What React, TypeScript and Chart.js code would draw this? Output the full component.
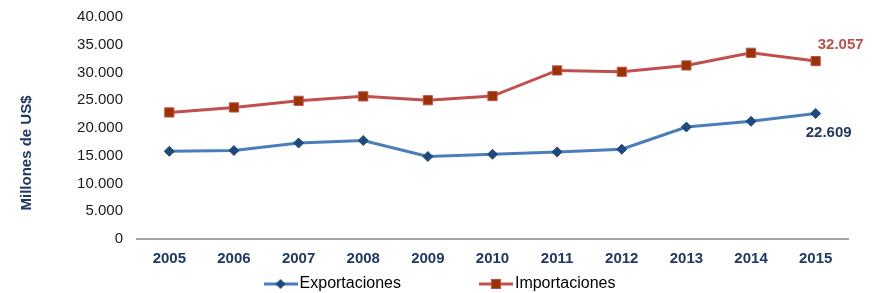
import React, { useEffect, useRef } from "react";
import { Chart, registerables } from "chart.js";

Chart.register(...registerables);

const years = ["2005", "2006", "2007", "2008", "2009", "2010", "2011", "2012", "2013", "2014", "2015"];
const exportaciones = [15810, 15940, 17300, 17740, 14860, 15270, 15690, 16170, 20180, 21200, 22609];
const importaciones = [22800, 23700, 24900, 25700, 25000, 25750, 30370, 30130, 31270, 33550, 32057];
const seriesNames = ["Exportaciones", "Importaciones"];
const endLabels = ["22.609", "32.057"];
const yAxisTitle = "Millones de US$";
const yMin = 0;
const yMax = 40000;
const yStep = 5000;

const FONT = "Arial, 'Liberation Sans', sans-serif";
const EXP_LINE = "#4a7ebb";
const EXP_MARK = "#1f497d";
const IMP_LINE = "#c0504d";
const IMP_MARK = "#993300";
const NAVY = "#1f3864";

function formatThousands(v: number): string {
  return v === 0 ? "0" : v.toLocaleString("de-DE");
}

function makeLegendSwatch(line: string, mark: string, border: string, kind: "diamond" | "square"): HTMLCanvasElement {
  const c = document.createElement("canvas");
  c.width = 34;
  c.height = 12;
  const ctx = c.getContext("2d")!;
  ctx.strokeStyle = line;
  ctx.lineWidth = 3;
  ctx.beginPath();
  ctx.moveTo(0, 6);
  ctx.lineTo(34, 6);
  ctx.stroke();
  ctx.fillStyle = mark;
  if (kind === "diamond") {
    ctx.beginPath();
    ctx.moveTo(17, 1);
    ctx.lineTo(22, 6);
    ctx.lineTo(17, 11);
    ctx.lineTo(12, 6);
    ctx.closePath();
    ctx.fill();
  } else {
    ctx.fillRect(12, 1, 10, 10);
    ctx.strokeStyle = border;
    ctx.lineWidth = 1;
    ctx.strokeRect(12.5, 1.5, 9, 9);
  }
  return c;
}

export default function App() {
  const canvasRef = useRef<HTMLCanvasElement | null>(null);

  useEffect(() => {
    document.body.style.margin = "0";
    const canvas = canvasRef.current!;
    const swatches = [
      makeLegendSwatch(EXP_LINE, EXP_MARK, EXP_MARK, "diamond"),
      makeLegendSwatch(IMP_LINE, IMP_MARK, IMP_LINE, "square"),
    ];

    const extrasPlugin = {
      id: "extras",
      afterDraw(chart: any) {
        const ctx = chart.ctx;
        ctx.save();
        // y-axis title
        ctx.translate(27, 153);
        ctx.rotate(-Math.PI / 2);
        ctx.font = `bold 15px ${FONT}`;
        ctx.fillStyle = NAVY;
        ctx.textAlign = "center";
        ctx.textBaseline = "middle";
        ctx.fillText(yAxisTitle, 0, 0);
        ctx.restore();

        // end labels
        const m0 = chart.getDatasetMeta(0);
        const m1 = chart.getDatasetMeta(1);
        const p0 = m0.data[m0.data.length - 1];
        const p1 = m1.data[m1.data.length - 1];
        ctx.save();
        ctx.font = `bold 15px ${FONT}`;
        ctx.textAlign = "center";
        ctx.textBaseline = "middle";
        ctx.fillStyle = NAVY;
        ctx.fillText(endLabels[0], p0.x + 13, p0.y + 19);
        ctx.fillStyle = IMP_LINE;
        ctx.fillText(endLabels[1], p1.x + 25, p1.y - 16);
        ctx.restore();

        // legend
        ctx.save();
        ctx.font = `16px ${FONT}`;
        ctx.textBaseline = "middle";
        ctx.fillStyle = "#000";
        const y = 284;
        const gap = 2;
        const itemGap = 78;
        const widths = seriesNames.map((n) => 34 + gap + ctx.measureText(n).width);
        const total = widths[0] + itemGap + widths[1];
        let x = chart.width / 2 - total / 2;
        seriesNames.forEach((n, i) => {
          ctx.drawImage(swatches[i], x, y - 6);
          ctx.fillText(n, x + 34 + gap, y);
          x += widths[i] + itemGap;
        });
        ctx.restore();
      },
    };

    const chart = new Chart(canvas, {
      type: "line",
      data: {
        labels: years,
        datasets: [
          {
            label: seriesNames[0],
            data: exportaciones,
            borderColor: EXP_LINE,
            borderWidth: 3,
            pointStyle: "rectRot",
            pointRadius: 5,
            pointBackgroundColor: EXP_MARK,
            pointBorderColor: EXP_MARK,
            pointBorderWidth: 1,
            tension: 0,
          },
          {
            label: seriesNames[1],
            data: importaciones,
            borderColor: IMP_LINE,
            borderWidth: 3,
            pointStyle: "rect",
            pointRadius: 6.5,
            pointBackgroundColor: IMP_MARK,
            pointBorderColor: IMP_LINE,
            pointBorderWidth: 1,
            tension: 0,
          },
        ],
      },
      options: {
        animation: false,
        responsive: false,
        maintainAspectRatio: false,
        layout: { padding: { left: 0, right: 31, top: 17, bottom: 0 } },
        plugins: {
          legend: { display: false },
          tooltip: { enabled: false },
        },
        scales: {
          x: {
            offset: true,
            grid: { display: false, drawTicks: false },
            border: { display: true, color: "#a6a6a6", width: 2 },
            ticks: {
              padding: 11,
              color: NAVY,
              font: { family: FONT, size: 15, weight: "bold" },
              maxRotation: 0,
            },
            afterFit: (scale: any) => {
              scale.height = 54;
              scale.paddingLeft = 0;
              scale.paddingRight = 0;
            },
          },
          y: {
            min: yMin,
            max: yMax,
            grid: { display: false, drawTicks: false },
            border: { display: false },
            ticks: {
              stepSize: yStep,
              padding: 14,
              color: "#1a1a1a",
              font: { family: FONT, size: 15 },
              callback: (v: any) => formatThousands(Number(v)),
            },
            afterFit: (scale: any) => {
              scale.width = 137;
              scale.paddingTop = 0;
              scale.paddingBottom = 0;
            },
          },
        },
      },
      plugins: [extrasPlugin],
    } as any);

    return () => chart.destroy();
  }, []);

  return (
    <div style={{ width: 879, height: 293, position: "relative" }}>
      <canvas ref={canvasRef} width={879} height={293} style={{ display: "block" }} />
    </div>
  );
}
